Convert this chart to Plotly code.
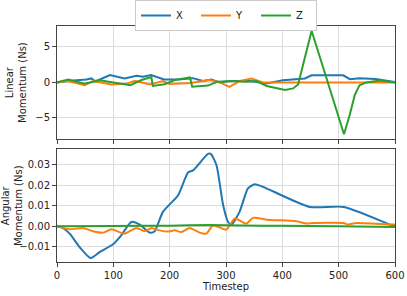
import plotly.graph_objects as go

# ---- Linear momentum (top) ----
lin_x_t = [0, 19, 52, 61, 67, 73, 94, 120, 141, 153, 167, 190, 215, 241, 259, 274, 289, 307, 343, 372, 401, 440, 452, 508, 520, 537, 565, 600]
lin_x_v = [0, 0.2, 0.42, 0.56, 0.2, 0.3, 1.03, 0.56, 0.94, 0.8, 1.03, 0.42, 0.4, 0.6, 0.2, 0.42, 0.0, 0.2, 0.2, -0.15, 0.3, 0.56, 1.0, 1.0, 0.45, 0.6, 0.47, 0.05]

lin_y_t = [0, 19, 49, 64, 96, 123, 138, 165, 188, 200, 236, 271, 289, 306, 325, 345, 366, 600]
lin_y_v = [0, 0.2, -0.38, 0.2, -0.28, -0.2, 0.23, -0.3, 0.2, -0.24, -0.1, 0.35, 0.0, -0.62, 0.2, 0.53, 0.0, 0.0]

lin_z_t = [0, 20, 49, 76, 100, 130, 150, 167.5, 170, 191, 209, 236, 240, 268, 285, 312, 336, 354, 372, 395, 405, 419, 428, 452, 509.5, 519.6, 528.5, 537, 549, 573, 600]
lin_z_v = [0, 0.42, -0.2, 0.3, 0.0, -0.4, 0.33, 0.75, -0.5, -0.25, 0.33, 0.7, -0.6, -0.45, 0.1, 0.2, 0.1, 0.2, -0.5, -0.9, -1.08, -0.85, -0.3, 7.27, -7.3, -4.6, -1.8, -0.4, 0.0, 0.25, 0.0]

# ---- Angular momentum (bottom) ----
ang_x_t = [0, 10, 22.5, 40, 60, 76, 99.5, 114, 132, 147, 164.5, 173, 188, 215, 232.6, 241.5, 268, 273, 283, 295, 303.6, 309.6, 324, 339, 351, 365.7, 448.6, 509.5, 596.5, 600]
ang_x_v = [0, -0.0008, -0.0036, -0.0101, -0.0155, -0.0125, -0.0088, -0.0044, 0.0021, 0.0008, -0.0031, -0.0026, 0.007, 0.0151, 0.0262, 0.0272, 0.0352, 0.0352, 0.0298, 0.0102, 0.0021, 0.0008, 0.007, 0.0184, 0.0205, 0.0192, 0.0094, 0.0094, 0.0003, 0.0002]

ang_y_t = [0, 22.5, 46, 64, 82, 96.5, 120, 141, 155.7, 167.6, 182, 197, 209, 221, 235.6, 253, 265, 277, 286, 300.7, 315.5, 336, 348, 372, 425, 443, 454.5, 508.5, 516.6, 531.5, 596.5, 600]
ang_y_v = [0, -0.0015, -0.0008, -0.0024, -0.0031, -0.0015, -0.0036, -0.0008, -0.0024, -0.0008, -0.002, -0.0026, -0.002, -0.0028, -0.0008, -0.0031, -0.0036, 0.0005, -0.0003, -0.0016, 0.0038, 0.0013, 0.0041, 0.0032, 0.0024, 0.0013, 0.0016, 0.0016, 0.0008, 0.0016, 0.0008, 0.0008]

ang_z_t = [0, 100, 200, 270, 330, 400, 500, 600]
ang_z_v = [0, 0.0001, 0.0003, 0.0006, 0.0004, 0.0002, 0.0, -0.0004]

x_ticks = [0, 100, 200, 300, 400, 500, 600]

BLUE, ORANGE, GREEN = "#1f77b4", "#ff7f0e", "#2ca02c"
LW = 2

fig = go.Figure()
for t, v, c, n in [(lin_x_t, lin_x_v, BLUE, "X"), (lin_y_t, lin_y_v, ORANGE, "Y"), (lin_z_t, lin_z_v, GREEN, "Z")]:
    fig.add_trace(go.Scatter(x=t, y=v, mode="lines", name=n, line=dict(color=c, width=LW),
                             xaxis="x", yaxis="y"))
for t, v, c, n in [(ang_x_t, ang_x_v, BLUE, "X"), (ang_y_t, ang_y_v, ORANGE, "Y"), (ang_z_t, ang_z_v, GREEN, "Z")]:
    fig.add_trace(go.Scatter(x=t, y=v, mode="lines", name=n, showlegend=False,
                             line=dict(color=c, width=LW, shape="spline", smoothing=0.6),
                             xaxis="x2", yaxis="y2"))

axis_common = dict(showline=True, linecolor="#444", linewidth=1, mirror=True,
                   showgrid=True, gridcolor="#dcdcdc", gridwidth=1, zeroline=False,
                   ticks="outside", ticklen=4, tickcolor="#444", automargin=False,
                   tickfont=dict(family="DejaVu Sans", size=10, color="#222"))

fig.update_layout(
    width=407, height=296,
    margin=dict(l=57, r=12, t=26, b=34, autoexpand=False),
    paper_bgcolor="white", plot_bgcolor="white",
    font=dict(family="DejaVu Sans", size=10, color="#222"),
    showlegend=True,
    legend=dict(orientation="h", x=0.5, xanchor="center", xref="paper",
                y=1.0, yanchor="top", yref="container",
                bordercolor="#cccccc", borderwidth=1, bgcolor="white",
                font=dict(size=10), entrywidth=15, entrywidthmode="pixels", tracegroupgap=0),
    xaxis=dict(domain=[0, 1], range=[0, 600], anchor="y", tickvals=x_ticks, showticklabels=False, **axis_common),
    yaxis=dict(domain=[0.5205, 1], range=[-8.0, 7.95], anchor="x", tickvals=[-5, 0, 5],
               title=dict(text="Linear<br>Momentum (Ns)", font=dict(size=10), standoff=6), **axis_common),
    xaxis2=dict(domain=[0, 1], range=[0, 600], anchor="y2", tickvals=x_ticks,
                title=dict(text="Timestep", font=dict(size=10), standoff=2), **axis_common),
    yaxis2=dict(domain=[0, 0.477], range=[-0.0174, 0.0374], anchor="x2",
                tickvals=[-0.01, 0.0, 0.01, 0.02, 0.03], tickformat=".2f",
                title=dict(text="Angular<br>Momentum (Ns)", font=dict(size=10), standoff=6), **axis_common),
)

fig.write_html("out.html", config={"displayModeBar": False},
               post_script="document.body.style.margin='0px';")
